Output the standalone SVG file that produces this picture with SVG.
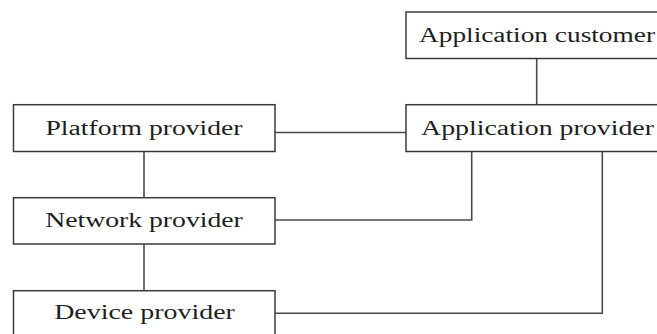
<svg xmlns="http://www.w3.org/2000/svg" width="657" height="334" viewBox="0 0 657 334">
  <style>
    .box { fill: #ffffff; stroke: #3a3a3a; stroke-width: 1.5; }
    .lbl { font-family: "Liberation Serif", "Times New Roman", serif; font-size: 20px; fill: #1e1e1e; text-anchor: middle; }
    .wire { fill: none; stroke: #4a4a4a; stroke-width: 1.6; }
  </style>
  <rect width="657" height="334" fill="#ffffff"/>

  <!-- connectors -->
  <g id="connectors">
    <line class="wire" x1="275" y1="132.5" x2="406" y2="132.5"/>
    <line class="wire" x1="536.7" y1="58.5" x2="536.7" y2="104.7"/>
    <line class="wire" x1="144" y1="151.5" x2="144" y2="197.7"/>
    <line class="wire" x1="144" y1="244" x2="144" y2="290.7"/>
    <polyline class="wire" points="275,220 471.7,220 471.7,151.5"/>
    <polyline class="wire" points="275,313.3 602.3,313.3 602.3,151.5"/>
  </g>

  <!-- nodes -->
  <g id="application-customer">
    <rect class="box" x="406" y="12" width="264" height="46.5"/>
    <text class="lbl" x="537" y="41.5" textLength="236" lengthAdjust="spacingAndGlyphs">Application customer</text>
  </g>
  <g id="platform-provider">
    <rect class="box" x="13.5" y="104.7" width="261.5" height="46.8"/>
    <text class="lbl" x="144" y="135" textLength="197" lengthAdjust="spacingAndGlyphs">Platform provider</text>
  </g>
  <g id="application-provider">
    <rect class="box" x="406" y="104.7" width="264" height="46.8"/>
    <text class="lbl" x="537.5" y="135" textLength="233" lengthAdjust="spacingAndGlyphs">Application provider</text>
  </g>
  <g id="network-provider">
    <rect class="box" x="13.5" y="197.7" width="261.5" height="46.3"/>
    <text class="lbl" x="144" y="227" textLength="197.7" lengthAdjust="spacingAndGlyphs">Network provider</text>
  </g>
  <g id="device-provider">
    <rect class="box" x="13.5" y="290.7" width="261.5" height="46.5"/>
    <text class="lbl" x="144.5" y="319" textLength="180.7" lengthAdjust="spacingAndGlyphs">Device provider</text>
  </g>
</svg>
